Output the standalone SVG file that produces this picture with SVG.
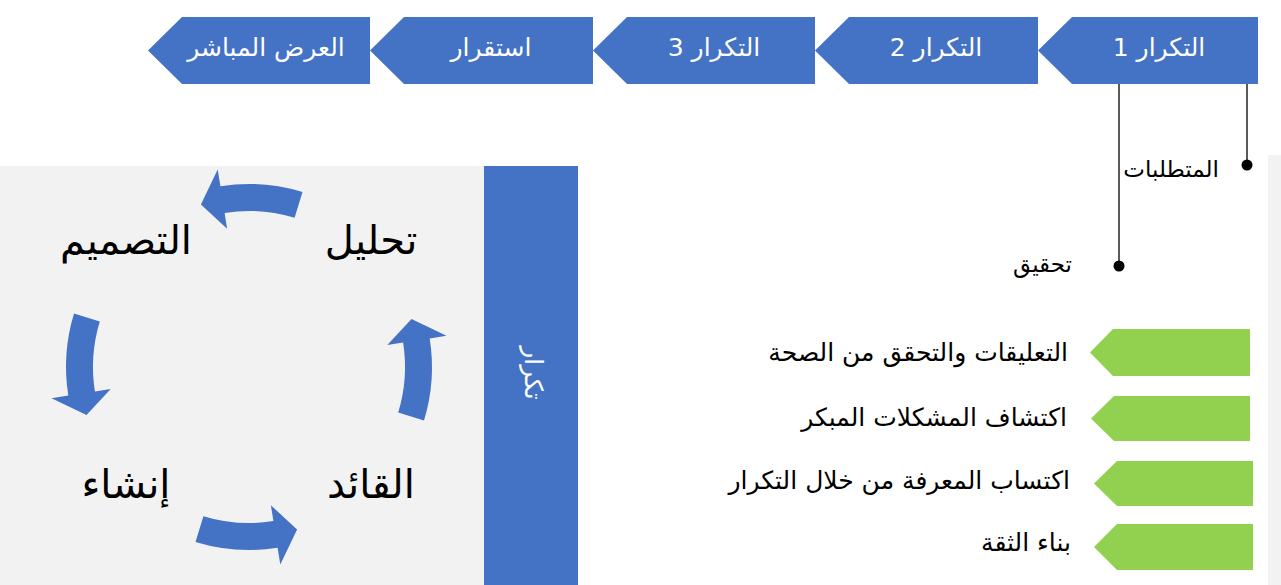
<svg xmlns="http://www.w3.org/2000/svg" width="1281" height="585" viewBox="0 0 1281 585">
<style>
.chev{fill:#4472c4}
.green{fill:#92d050}
.arc{fill:#4472c4}
.wt{font-family:"DejaVu Sans","Liberation Sans",sans-serif;font-size:25px;fill:#ffffff}
.bt{font-family:"DejaVu Sans","Liberation Sans",sans-serif;font-size:25px;fill:#000000}
.lb{font-family:"DejaVu Sans","Liberation Sans",sans-serif;font-size:23px;fill:#000000}
.big{font-family:"DejaVu Sans","Liberation Sans",sans-serif;font-size:40px;fill:#000000}
.ln{stroke:#000;stroke-width:1.3;fill:none}
</style>
<rect x="0" y="0" width="1281" height="585" fill="#ffffff"/>
<rect x="0" y="166" width="484" height="419" fill="#f2f2f2"/>
<rect x="1268" y="155" width="13" height="430" fill="#f2f2f2"/>

<g id="stage-live">
<polygon class="chev" points="148,50.5 182,17 370,17 370,84 182,84"/>
<text class="wt" x="266" y="56" text-anchor="middle" direction="rtl">العرض المباشر</text>
</g>
<g id="stage-stabilize">
<polygon class="chev" points="370,50.5 404,17 593,17 593,84 404,84"/>
<text class="wt" x="491" y="56" text-anchor="middle" direction="rtl">استقرار</text>
</g>
<g id="stage-iter3">
<polygon class="chev" points="593,50.5 627,17 815,17 815,84 627,84"/>
<text class="wt" x="714" y="56" text-anchor="middle" direction="rtl">التكرار 3</text>
</g>
<g id="stage-iter2">
<polygon class="chev" points="815,50.5 849,17 1038,17 1038,84 849,84"/>
<text class="wt" x="936" y="56" text-anchor="middle" direction="rtl">التكرار 2</text>
</g>
<g id="stage-iter1">
<polygon class="chev" points="1038,50.5 1072,17 1258,17 1258,84 1072,84"/>
<text class="wt" x="1159" y="56" text-anchor="middle" direction="rtl">التكرار 1</text>
</g>

<g id="connectors">
<line class="ln" x1="1247" y1="84" x2="1247" y2="165"/>
<circle cx="1247" cy="165" r="5.5" fill="#000"/>
<line class="ln" x1="1119" y1="84" x2="1119" y2="266"/>
<circle cx="1119" cy="266" r="5.5" fill="#000"/>
</g>

<g id="label-requirements">
<text class="lb" x="1219" y="177" text-anchor="start" direction="rtl">المتطلبات</text>
</g>
<g id="label-verify">
<text class="lb" x="1072" y="272" text-anchor="start" direction="rtl">تحقيق</text>
</g>

<g id="iterate-bar">
<rect x="484" y="166" width="94" height="419" fill="#4472c4"/>
<text class="wt" font-size="25" x="0" y="0" text-anchor="middle" direction="rtl" transform="translate(525,373) rotate(90)">تكرار</text>
</g>

<g id="cycle">
<path class="arc" d="M424.0,420.5 A183,183 0 0 0 429.7,338.4 L446.5,335.7 L411.5,318.9 L387.3,345.1 L403.1,342.6 A156,156 0 0 1 398.2,412.6 Z"/>
<path class="arc" d="M195.5,542.0 A183,183 0 0 0 277.6,547.7 L280.3,564.5 L297.1,529.5 L270.9,505.3 L273.4,521.1 A156,156 0 0 1 203.4,516.2 Z"/>
<path class="arc" d="M74.0,313.5 A183,183 0 0 0 68.3,395.6 L51.5,398.3 L86.5,415.1 L110.7,388.9 L94.9,391.4 A156,156 0 0 1 99.8,321.4 Z"/>
<path class="arc" d="M302.5,192.0 A183,183 0 0 0 220.4,186.3 L217.7,169.5 L200.9,204.5 L227.1,228.7 L224.6,212.9 A156,156 0 0 1 294.6,217.8 Z"/>
</g>
<g id="node-analysis"><text class="big" x="371" y="254" text-anchor="middle" direction="rtl">تحليل</text></g>
<g id="node-design"><text class="big" x="126" y="254" text-anchor="middle" direction="rtl">التصميم</text></g>
<g id="node-build"><text class="big" x="126" y="498" text-anchor="middle" direction="rtl">إنشاء</text></g>
<g id="node-lead"><text class="big" x="371" y="498" text-anchor="middle" direction="rtl">القائد</text></g>

<g id="benefit-1">
<polygon class="green" points="1090,352.5 1113,329 1250,329 1250,376 1113,376"/>
<text class="bt" x="1068" y="361" text-anchor="start" direction="rtl">التعليقات والتحقق من الصحة</text>
</g>
<g id="benefit-2">
<polygon class="green" points="1091,418.5 1114,396 1250,396 1250,441 1114,441"/>
<text class="bt" x="1067" y="426" text-anchor="start" direction="rtl">اكتشاف المشكلات المبكر</text>
</g>
<g id="benefit-3">
<polygon class="green" points="1094,483.5 1117,461 1253,461 1253,506 1117,506"/>
<text class="bt" x="1070" y="489" text-anchor="start" direction="rtl">اكتساب المعرفة من خلال التكرار</text>
</g>
<g id="benefit-4">
<polygon class="green" points="1094,547 1117,524 1253,524 1253,570 1117,570"/>
<text class="bt" x="1071" y="551" text-anchor="start" direction="rtl">بناء الثقة</text>
</g>
</svg>
